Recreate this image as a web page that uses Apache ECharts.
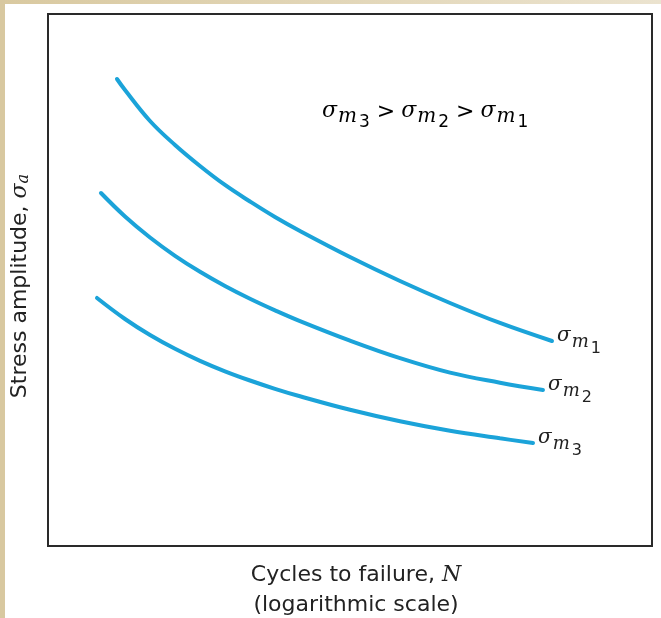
<!DOCTYPE html>
<html>
<head>
<meta charset="utf-8">
<script src="https://cdn.jsdelivr.net/npm/echarts@6/dist/echarts.min.js"></script>
<style>
  html, body { margin: 0; padding: 0; background: #ffffff; }
  #chart { width: 661px; height: 618px; }
</style>
</head>
<body>
<div id="chart"></div>
<script>
// S-N curves for three mean stress levels (schematic; log N on x, stress amplitude on y)
const curveNames = ['σm1', 'σm2', 'σm3'];
const subscriptDigits = ['1', '2', '3'];

// log N position (0-100 across the axis)
const logN_m1 = [11.42, 12.75, 16.89, 21.03, 25.17, 29.30, 33.44, 37.58, 41.72, 50.00, 58.28, 66.56, 74.83, 83.44];
const logN_m2 = [8.77, 12.75, 16.89, 21.03, 25.17, 29.30, 33.44, 37.58, 41.72, 50.00, 58.28, 66.56, 74.83, 81.95];
const logN_m3 = [8.11, 12.75, 16.89, 21.03, 25.17, 29.30, 33.44, 37.58, 41.72, 50.00, 58.28, 66.56, 74.83, 80.30];

// stress amplitude (0-100 across the axis)
const sigmaA_m1 = [87.78, 85.71, 79.89, 75.38, 71.43, 67.86, 64.76, 61.84, 59.21, 54.32, 49.81, 45.68, 41.92, 38.53];
const sigmaA_m2 = [66.35, 61.94, 57.99, 54.55, 51.54, 48.87, 46.47, 44.29, 42.26, 38.59, 35.30, 32.58, 30.70, 29.32];
const sigmaA_m3 = [46.62, 42.67, 39.66, 37.07, 34.81, 32.84, 31.11, 29.55, 28.14, 25.60, 23.44, 21.65, 20.24, 19.36];

const xLabelLine1 = 'Cycles to failure, ';
const xLabelSymbol = 'N';
const xLabelLine2 = '(logarithmic scale)';
const yLabelText = 'Stress amplitude, ';

const lineColor = '#1ba3d9';
const textColor = '#222222';
const sansFont = '"DejaVu Sans", "Open Sans", sans-serif';
const serifFont = '"DejaVu Serif", "Liberation Serif", serif';

function pairs(xs, ys) {
  return xs.map((x, i) => [x, ys[i]]);
}

// rich-text styles for the σ_m subscripted symbols next to the curves
const subRich = {
  s: { fontFamily: serifFont, fontStyle: 'italic', fontSize: 20, lineHeight: 30, verticalAlign: 'top', padding: [0, 1, 0, 0], color: textColor },
  m: { fontFamily: serifFont, fontStyle: 'italic', fontSize: 18, lineHeight: 30, verticalAlign: 'top', padding: [7, 2, 0, 0], color: textColor },
  d: { fontFamily: sansFont, fontSize: 16, lineHeight: 30, verticalAlign: 'top', padding: [15, 0, 0, 0], color: textColor }
};

// rich-text styles for the ordering statement at the top
const titleRich = {
  s: { fontFamily: serifFont, fontStyle: 'italic', fontSize: 22, lineHeight: 34, verticalAlign: 'top', padding: [0, 1, 0, 0], color: textColor },
  m: { fontFamily: serifFont, fontStyle: 'italic', fontSize: 20, lineHeight: 34, verticalAlign: 'top', padding: [7, 2, 0, 0], color: textColor },
  d: { fontFamily: sansFont, fontSize: 17, lineHeight: 34, verticalAlign: 'top', padding: [14, 0, 0, 0], color: textColor },
  g: { fontFamily: sansFont, fontSize: 22, lineHeight: 34, verticalAlign: 'top', padding: [1, 6, 0, 7], color: textColor }
};

function sigmaM(d) {
  return '{s|σ}{m|m}{d|' + d + '}';
}

const seriesData = [pairs(logN_m1, sigmaA_m1), pairs(logN_m2, sigmaA_m2), pairs(logN_m3, sigmaA_m3)];

const chart = echarts.init(document.getElementById('chart'), null, { renderer: 'canvas' });

const hiddenAxisParts = {
  axisLine: { show: false }, axisTick: { show: false },
  axisLabel: { show: false }, splitLine: { show: false }
};

chart.setOption({
  backgroundColor: '#ffffff',
  animation: false,
  grid: {
    left: 48, right: 9, top: 14, bottom: 72,
    show: true, borderColor: '#2a2a2a', borderWidth: 2, backgroundColor: 'transparent',
    outerBoundsMode: 'none', containLabel: false
  },
  xAxis: Object.assign({
    type: 'value', min: 0, max: 100,
    name: '{t|' + xLabelLine1 + '}{n|' + xLabelSymbol + '}\n{t|' + xLabelLine2 + '}',
    nameLocation: 'middle', nameGap: 14,
    nameTextStyle: {
      padding: [0, 0, 0, 12],
      rich: {
        t: { fontFamily: sansFont, fontSize: 22, lineHeight: 30, color: textColor },
        n: { fontFamily: serifFont, fontStyle: 'italic', fontSize: 22, lineHeight: 30, color: textColor }
      }
    }
  }, hiddenAxisParts),
  yAxis: Object.assign({
    type: 'value', min: 0, max: 100,
    name: '{t|' + yLabelText + '}{s|σ}{a|a}',
    nameLocation: 'middle', nameGap: 9, nameRotate: 90,
    nameTextStyle: {
      padding: [0, 12, 0, 0],
      rich: {
        t: { fontFamily: sansFont, fontSize: 22, lineHeight: 30, verticalAlign: 'top', color: textColor },
        s: { fontFamily: serifFont, fontStyle: 'italic', fontSize: 22, lineHeight: 30, verticalAlign: 'top', color: textColor },
        a: { fontFamily: serifFont, fontStyle: 'italic', fontSize: 16, lineHeight: 30, verticalAlign: 'top', padding: [7, 0, 0, 0], color: textColor }
      }
    }
  }, hiddenAxisParts),
  graphic: [
    { type: 'rect', z: -10, shape: { x: 0, y: 0, width: 661, height: 4 },
      style: { fill: new echarts.graphic.LinearGradient(0, 0, 1, 0, [{ offset: 0, color: '#d9c9a0' }, { offset: 1, color: '#ebe3cf' }]) } },
    { type: 'rect', z: -10, shape: { x: 0, y: 0, width: 5, height: 618 }, style: { fill: '#d8c8a0' } },
    { type: 'text', left: 322, top: 100, z: 10,
      style: { text: sigmaM('3') + '{g|>}' + sigmaM('2') + '{g|>}' + sigmaM('1'), rich: titleRich } }
  ],
  series: seriesData.map((d, i) => ({
    name: curveNames[i],
    type: 'line',
    data: d,
    smooth: 0.4,
    showSymbol: false,
    lineStyle: { color: lineColor, width: 4, cap: 'round' },
    endLabel: {
      show: true,
      distance: 5,
      formatter: sigmaM(subscriptDigits[i]),
      rich: subRich
    }
  }))
});
</script>
</body>
</html>
